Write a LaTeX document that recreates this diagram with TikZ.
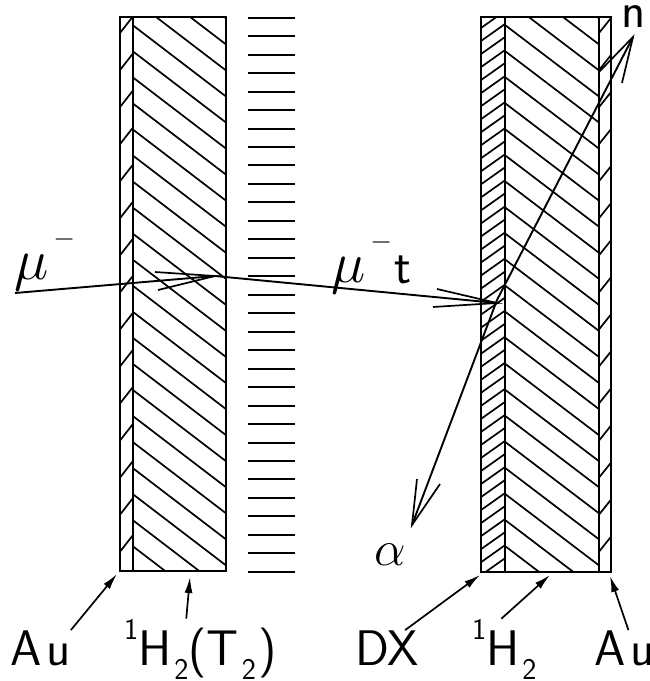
\documentclass[tikz,border=0pt]{standalone}
\usepackage{fix-cm}
\usepackage{fontspec}
\usetikzlibrary{arrows.meta}
\tikzset{
  wall/.style={line width=2pt},
  hatch/.style={line width=1.7pt},
  barb/.style={line width=1.7pt},
  track/.style={line width=1.9pt},
  lead/.style={line width=1.7pt,-{Latex[length=16pt,width=8pt]}},
  word/.style={inner sep=0pt,anchor=base west,font=\fontsize{50}{50}\sffamily},
  greek/.style={inner sep=0pt,anchor=base west,font=\fontsize{58}{58}\selectfont}
}
\newcommand{\barminus}{\hspace{5pt}\raisebox{33pt}{\fontsize{28}{28}\selectfont$-$}}
\newcommand{\lowtwo}{\hspace{3pt}\raisebox{-14pt}{\fontsize{30}{30}\selectfont 2}}
\newcommand{\topone}{\raisebox{26pt}{\fontsize{30}{30}\selectfont 1}}
\begin{document}
\begin{tikzpicture}[x=1pt,y=-1pt]
\useasboundingbox (0,0) rectangle (650,681);

%left target
\begin{scope}
\clip (120,17) rectangle (132.5,571);
\foreach \k in {0,...,15}
  \draw[hatch] (120,{33+37.05*\k}) -- (132.5,{17+37.05*\k});
\end{scope}
\begin{scope}
\clip (132.5,17) rectangle (226,571);
\foreach \k in {-3,...,21}
  \draw[hatch] (132.5,{25+26.05*\k}) -- (226,{25+26.05*\k+71.5});
\end{scope}
\draw[wall] (120,17) rectangle (226,571);
\draw[wall] (132.5,17) -- (132.5,571);

%grid
\foreach \k in {0,...,30}
  \draw[wall] (248,{17.7+18.47*\k}) -- (295,{17.7+18.47*\k});

%right target
\begin{scope}
\clip (481,17) rectangle (505,572);
\foreach \k in {-1,...,43}
  \draw[hatch] (481,{41+13.03*\k}) -- (505,{24+13.03*\k});
\end{scope}
\begin{scope}
\clip (505,17) rectangle (599,572);
\foreach \k in {-3,...,21}
  \draw[hatch] (505,{25+26.05*\k}) -- (599,{25+26.05*\k+71.5});
\end{scope}
\begin{scope}
\clip (599,17) rectangle (611,572);
\foreach \k in {0,...,15}
  \draw[hatch] (599,{33+37.05*\k}) -- (611,{18+37.05*\k});
\end{scope}
\draw[wall] (481,17) rectangle (611,572);
\draw[wall] (505,17) -- (505,572);
\draw[wall] (599,17) -- (599,572);

%tracks
\coordinate (start) at (15,293);
\coordinate (hit) at (215,276);
\coordinate (stop) at (497,303);
\coordinate (fus) at (497,300);
\coordinate (ntip) at (633,37);
\coordinate (atip) at (412,525);
\draw[track] (start) -- (hit) -- (stop);
\draw[track] (fus) -- (ntip);
\draw[track] (fus) -- (atip);
\draw[barb] (155,272) -- (hit) -- (158,290);
\draw[barb] (437,289) -- (stop) -- (433,307);
\draw[barb] (599,72) -- (ntip) -- (622,83);
\draw[barb] (417,479) -- (atip) -- (440,484);

%labels
\node[greek] (mua) at (14,279) {$\mu$\barminus};
\node[greek] (mub) at (331,282) {$\mu$\barminus};
\node[word] (t) at (394,283) {t};
\node[word] (n) at (621,27) {n};
\node[greek,font=\fontsize{50}{50}\selectfont] (alpha) at (374,565) {$\alpha$};

\node[word] (aua) at (10,665) {A\hspace{5pt}u};
\node[word] (hta) at (124,665) {\topone H\lowtwo(T\lowtwo\hspace{2pt})};
\node[word] (dx) at (355,665) {DX};
\node[word] (hb) at (472,665) {\topone H\lowtwo};
\node[word] (aub) at (594,665) {A\hspace{5pt}u};

\coordinate (auatip) at (117,574);
\coordinate (htatip) at (190,577);
\coordinate (dxtip) at (480,575);
\coordinate (hbtip) at (550,575);
\coordinate (aubtip) at (610,576);
\draw[lead] (aua.north east) -- (auatip);
\draw[lead] ([xshift=-14pt]hta.north) -- (htatip);
\draw[lead] ([xshift=18pt]dx.north) -- (dxtip);
\draw[lead] ([xshift=-3pt]hb.north) -- (hbtip);
\draw[lead] ([xshift=4pt]aub.north) -- (aubtip);
\end{tikzpicture}
\end{document}
